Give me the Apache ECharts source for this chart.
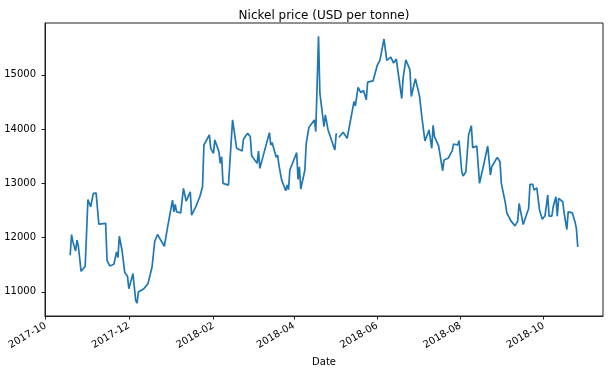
<!DOCTYPE html>
<html>
<head>
<meta charset="utf-8">
<script src="https://cdn.jsdelivr.net/npm/echarts@6/dist/echarts.min.js"></script>
<style>
html,body{margin:0;padding:0;background:#fff;}
#chart{width:616px;height:374px;}
</style>
</head>
<body>
<div id="chart"></div>
<script>
const dates = [
"2017-10-19","2017-10-20","2017-10-21","2017-10-23","2017-10-24","2017-10-25","2017-10-26","2017-10-27","2017-10-30",
"2017-11-01","2017-11-03","2017-11-05","2017-11-07","2017-11-09","2017-11-10","2017-11-14","2017-11-15","2017-11-16","2017-11-17","2017-11-20","2017-11-22","2017-11-23","2017-11-24","2017-11-26","2017-11-28","2017-11-30",
"2017-12-01","2017-12-04","2017-12-06","2017-12-07","2017-12-08","2017-12-12","2017-12-15","2017-12-18","2017-12-20","2017-12-22","2017-12-27","2017-12-29",
"2018-01-02","2018-01-03","2018-01-04","2018-01-05","2018-01-08","2018-01-10","2018-01-12","2018-01-15","2018-01-16","2018-01-17","2018-01-19","2018-01-22","2018-01-24","2018-01-25","2018-01-29","2018-01-30",
"2018-02-01","2018-02-02","2018-02-05","2018-02-06","2018-02-07","2018-02-08","2018-02-09","2018-02-12","2018-02-15","2018-02-18","2018-02-19","2018-02-22","2018-02-23","2018-02-26","2018-02-28",
"2018-03-01","2018-03-05","2018-03-06","2018-03-07","2018-03-14","2018-03-15","2018-03-16","2018-03-19","2018-03-20","2018-03-21","2018-03-23","2018-03-26","2018-03-27","2018-03-28","2018-03-29",
"2018-04-03","2018-04-04","2018-04-05","2018-04-06","2018-04-09","2018-04-10","2018-04-11","2018-04-12","2018-04-16","2018-04-17","2018-04-19","2018-04-20","2018-04-23","2018-04-24","2018-04-26","2018-04-27",
"2018-05-01","2018-05-02","2018-05-03","2018-05-04","2018-05-07","2018-05-10","2018-05-15","2018-05-16","2018-05-18","2018-05-20","2018-05-22","2018-05-24","2018-05-25","2018-05-29",
"2018-06-01","2018-06-03","2018-06-06","2018-06-08","2018-06-11","2018-06-13","2018-06-15","2018-06-19","2018-06-20","2018-06-22","2018-06-25","2018-06-26","2018-06-29",
"2018-07-02","2018-07-04","2018-07-06","2018-07-09","2018-07-11","2018-07-12","2018-07-13","2018-07-16","2018-07-19","2018-07-20","2018-07-23","2018-07-26","2018-07-27","2018-07-30","2018-07-31",
"2018-08-02","2018-08-03","2018-08-05","2018-08-07","2018-08-09","2018-08-10","2018-08-13","2018-08-15","2018-08-18","2018-08-21","2018-08-23","2018-08-24","2018-08-28","2018-08-30","2018-08-31",
"2018-09-03","2018-09-04","2018-09-05","2018-09-07","2018-09-10","2018-09-12","2018-09-13","2018-09-16","2018-09-20","2018-09-21","2018-09-23","2018-09-24","2018-09-26","2018-09-28","2018-09-30",
"2018-10-02","2018-10-03","2018-10-04","2018-10-05","2018-10-07","2018-10-08","2018-10-10","2018-10-11","2018-10-12","2018-10-13","2018-10-15","2018-10-16","2018-10-17","2018-10-18","2018-10-19","2018-10-22","2018-10-24","2018-10-25","2018-10-26"
];
const prices = [
11673,12055,11919,11752,11950,11839,11839,11377,11470,
12702,12566,12813,12820,12246,12270,12262,11580,11575,11475,11506,11734,11630,12024,11765,11353,11285,
11057,11334,10841,10791,10995,11057,11150,11457,11932,12055,11839,12135,
12689,12473,12610,12473,12455,12905,12671,12843,12412,12425,12566,12751,12936,13706,13891,13645,
13552,13799,13583,13367,13490,12998,12967,12967,14168,13645,13676,13595,13811,13922,13860,
13509,13367,13595,13275,13934,13706,13750,13478,13520,13336,13059,12862,12970,12880,13244,
13564,13072,13305,12893,13244,13737,13750,14033,14168,13953,15710,14661,14045,14261,13983,13990,
13614,13922,null,13848,13941,13830,14507,14427,14766,14673,14710,14538,14864,14889,
15172,15265,15660,15265,15327,15216,15290,14562,14938,15277,15092,14599,14926,
14612,14168,13780,13983,13645,14070,13860,13688,13231,13429,13460,13601,13725,13706,13786,
13213,13133,13213,13891,14063,13657,13688,12998,13336,13688,13152,13305,13478,13397,12998,
12628,12455,12490,12307,12214,12301,12628,12240,12536,12980,12980,12874,12917,12505,12338,
12400,12400,12782,12394,12394,12566,12751,12394,12721,12690,12660,12455,12455,12148,12473,12455,12288,12165,11826
];
const xTickDates = ["2017-10-01","2017-12-01","2018-02-01","2018-04-01","2018-06-01","2018-08-01","2018-10-01"];
const xTickLabels = ["2017-10","2017-12","2018-02","2018-04","2018-06","2018-08","2018-10"];
const yTicks = [11000,12000,13000,14000,15000];
const yTickLabels = ["11000","12000","13000","14000","15000"];
const titleText = "Nickel price (USD per tonne)";
const xName = "Date";

function parseLocal(s){
  const p = s.split(/[- :]/).map(Number);
  return new Date(p[0], p[1]-1, p[2], p[3]||0, p[4]||0).getTime();
}
const xTickVals = xTickDates.map(parseLocal);
const seriesData = dates.map((d,i)=>[parseLocal(d), prices[i]]);

const FONT = "DejaVu Sans";
const chart = echarts.init(document.getElementById('chart'), null, {renderer:'canvas'});
chart.setOption({
  animation:false,
  backgroundColor:'#ffffff',
  textStyle:{fontFamily:FONT},
  title:{
    text:titleText, left:319, top:5, textAlign:'center',
    textStyle:{fontFamily:FONT, fontSize:12, fontWeight:'normal', color:'#000'}
  },
  grid:{left:45, right:13, top:23, bottom:58, show:true, borderColor:'#222', borderWidth:1, backgroundColor:'transparent', containLabel:false, outerBoundsMode:'none'},
  xAxis:{
    type:'value',
    min:parseLocal('2017-09-30 13:00'),
    max:parseLocal('2018-11-13 12:00'),
    name:xName, nameLocation:'middle', nameGap:41,
    nameTextStyle:{fontFamily:FONT, fontSize:10, color:'#000'},
    axisLine:{show:true, lineStyle:{color:'#222', width:1}},
    axisTick:{show:true, inside:false, length:3.5, lineStyle:{color:'#222'}, customValues:xTickVals},
    axisLabel:{
      show:true, rotate:30, margin:9, fontFamily:FONT, fontSize:10, color:'#000',
      customValues:xTickVals,
      formatter:function(v){
        let best=-1, bd=Infinity;
        xTickVals.forEach((t,i)=>{const d=Math.abs(t-v); if(d<bd){bd=d;best=i;}});
        return bd<86400000 ? xTickLabels[best] : '';
      },
      hideOverlap:false, showMinLabel:true, showMaxLabel:true
    },
    splitLine:{show:false}, minorTick:{show:false}
  },
  yAxis:{
    type:'value', min:10553, max:15955,
    axisLine:{show:true, lineStyle:{color:'#222', width:1}},
    axisTick:{show:true, inside:false, length:3.5, lineStyle:{color:'#222'}, customValues:yTicks},
    axisLabel:{
      show:true, margin:9, fontFamily:FONT, fontSize:10, color:'#000',
      customValues:yTicks,
      formatter:function(v){
        const i = yTicks.indexOf(v);
        return i>=0 ? yTickLabels[i] : '';
      }
    },
    splitLine:{show:false}
  },
  series:[{
    type:'line', data:seriesData, showSymbol:false, symbol:'none',
    connectNulls:false,
    lineStyle:{color:'#1f77b4', width:1.7},
    itemStyle:{color:'#1f77b4'}
  }]
});
</script>
</body>
</html>
